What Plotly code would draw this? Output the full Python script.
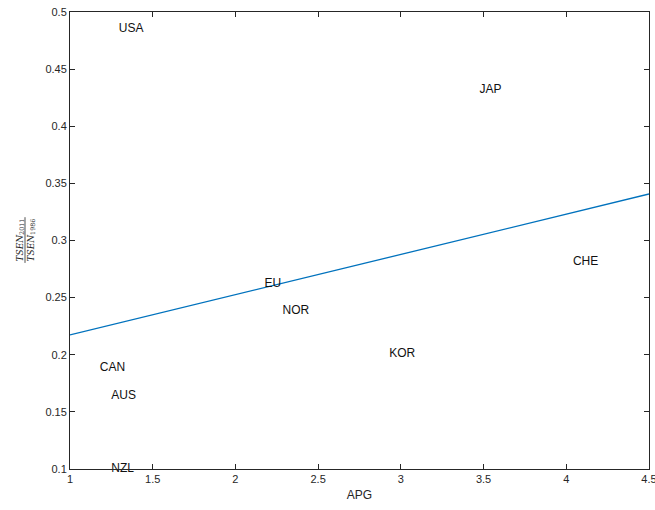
import plotly.graph_objects as go

# Country labels placed at (APG, TSEN ratio)
countries = ["USA", "JAP", "CHE", "EU", "NOR", "KOR", "CAN", "AUS", "NZL"]
apg = [1.295, 3.475, 4.04, 2.175, 2.285, 2.93, 1.18, 1.25, 1.25]
tsen_ratio = [0.485, 0.432, 0.281, 0.262, 0.238, 0.2005, 0.1885, 0.164, 0.1003]

# Fitted line endpoints
fit_x = [1.0, 4.5]
fit_y = [0.2173, 0.3407]

x_ticks = [1, 1.5, 2, 2.5, 3, 3.5, 4, 4.5]
y_ticks = [0.1, 0.15, 0.2, 0.25, 0.3, 0.35, 0.4, 0.45, 0.5]

axis_color = "#262626"
font_family = "Liberation Sans, Arial, sans-serif"

fig = go.Figure()
fig.add_trace(go.Scatter(
    x=fit_x, y=fit_y, mode="lines",
    line=dict(color="rgb(0,114,189)", width=1.3),
    hoverinfo="skip",
))
fig.add_trace(go.Scatter(
    x=apg, y=tsen_ratio, mode="text", text=countries,
    textposition="middle right", cliponaxis=False,
    textfont=dict(family=font_family, size=12, color="#111111"),
))

axis_common = dict(
    showline=True, mirror="ticks", linecolor=axis_color, linewidth=1,
    ticks="inside", ticklen=5, tickcolor=axis_color, tickwidth=1,
    showgrid=False, zeroline=False, ticklabeloverflow="allow",
    automargin=False,
    tickfont=dict(family=font_family, size=11, color=axis_color),
)

fig.update_xaxes(range=[1, 4.5], tickvals=x_ticks,
                 ticktext=[f"{v:g}" for v in x_ticks],
                 title=dict(text="APG", font=dict(family=font_family, size=12, color=axis_color), standoff=6),
                 **axis_common)
fig.update_yaxes(range=[0.1, 0.5], tickvals=y_ticks,
                 ticktext=[f"{v:g}" for v in y_ticks],
                 **axis_common)

# Fraction-style y-axis label: TSEN_2011 / TSEN_1986
frac_font = dict(family="DejaVu Serif, serif", size=9, color=axis_color)
fig.add_annotation(text="<i>TSEN</i><sub>2011</sub>", xref="paper", yref="paper",
                   x=0, y=0.5, xanchor="center", yanchor="middle", xshift=-50,
                   textangle=-90, showarrow=False, font=frac_font)
fig.add_annotation(text="<i>TSEN</i><sub>1986</sub>", xref="paper", yref="paper",
                   x=0, y=0.5, xanchor="center", yanchor="middle", xshift=-39,
                   textangle=-90, showarrow=False, font=frac_font)
fig.add_shape(type="line", xref="paper", yref="paper",
              x0=-0.0777, x1=-0.0777, y0=0.451, y1=0.551,
              line=dict(color=axis_color, width=0.8))

fig.update_layout(
    width=655, height=510,
    margin=dict(l=70, r=6, t=12, b=41, autoexpand=False),
    paper_bgcolor="white", plot_bgcolor="white",
    showlegend=False,
    font=dict(family=font_family),
)

fig.write_html("out.html")
